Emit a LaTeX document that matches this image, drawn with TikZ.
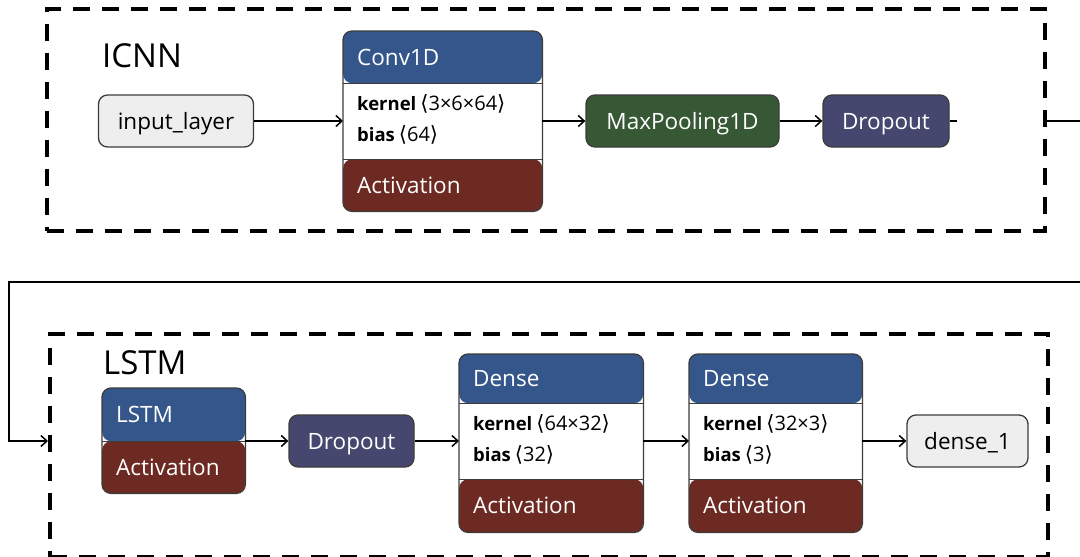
\documentclass[tikz,border=0pt]{standalone}
\usepackage{fontspec}
\setmainfont{Open Sans}
\newfontfamily\symf{DejaVu Sans}
\usetikzlibrary{arrows.meta,calc}
\definecolor{hblue}{HTML}{34568A}
\definecolor{hred}{HTML}{6D2A22}
\definecolor{hgreen}{HTML}{365834}
\definecolor{hpurple}{HTML}{46476F}
\definecolor{lgray}{HTML}{EEEEEE}
\definecolor{edgec}{HTML}{3C3C3C}
\newcommand\labfont{\fontsize{22.5}{26}\selectfont}
\newcommand\parfont{\fontsize{18.5}{31}\selectfont}
\newcommand\shp[1]{\hspace{4pt}{\symf\fontsize{21}{24}\selectfont ⟨}{\fontsize{20}{24}\selectfont #1}{\symf\fontsize{21}{24}\selectfont ⟩}}
% name, x, ytop, width, h1, h2, h3, title, content
\newcommand\complayer[9]{%
  \pgfmathsetmacro\ctot{#5+#6+#7}%
  \node[draw=none, rounded corners=9pt, minimum width=#4pt, minimum height=\ctot pt,
    anchor=north west, inner sep=0pt, fill=white,
    path picture={%
      \fill[hblue] (path picture bounding box.north west) rectangle ++(#4pt,-#5pt);
      \fill[hred] (path picture bounding box.south west) rectangle ++(#4pt,#7pt);
      \draw[edgec,line width=1.3pt] ([yshift=-#5pt]path picture bounding box.north west) -- ++(#4pt,0pt);
      \draw[edgec,line width=1.3pt] ([yshift=#7pt]path picture bounding box.south west) -- ++(#4pt,0pt);
    }] (#1) at (#2,#3) {};
  \draw[edgec,line width=1.3pt,rounded corners=9pt] (#1.north west) rectangle (#1.south east);
  \node[anchor=west, inner sep=0pt, text=white, font=\labfont, text height=16pt, text depth=0pt] (#1-t) at ([xshift=14pt,yshift=-#5pt/2]#1.north west) {#8};
  \node[anchor=west, inner sep=0pt, text=white, font=\labfont, text height=16pt, text depth=0pt] (#1-a) at ([xshift=14pt,yshift=#7pt/2]#1.south west) {Activation};
  \if\relax\detokenize{#9}\relax\else
  \node[anchor=west, inner sep=0pt, align=left, font=\parfont] (#1-p) at ([xshift=14pt,yshift=-#5pt-#6pt/2+2pt]#1.north west) {#9};
  \fi
}
\begin{document}
\begin{tikzpicture}[x=1pt,y=-1pt,
  box/.style={draw=edgec, line width=1.3pt, rounded corners=9pt, minimum height=52pt, inner sep=0pt, font=\labfont, text height=16pt, text depth=0pt},
  lightbox/.style={box, fill=lgray, text=black},
  darkbox/.style={box, text=white},
  grp/.style={draw=black, line width=3.5pt, dash pattern=on 17pt off 12pt, inner sep=0pt, anchor=north west},
  conn/.style={line width=1.5pt, -{Straight Barb[length=6pt,width=11pt,line width=1.5pt]}},
  plain/.style={line width=1.5pt},
  grptitle/.style={font=\fontsize{33}{36}\selectfont, anchor=base west, inner sep=0pt}
]
\clip (0,0) rectangle (1080,557);
\fill[white] (0,0) rectangle (1080,557);

% groups
\node[grp, minimum width=998pt, minimum height=222pt] (icnngrp) at (45,7) {};
\node[grp, minimum width=998pt, minimum height=223pt] (lstmgrp) at (48,332) {};
\node[grptitle] (icnnt) at (102,67) {ICNN};
\node[grptitle] (lstmt) at (103,374) {LSTM};

% top row
\node[lightbox, minimum width=155pt] (inp) at (176,121) {input\_layer};
\complayer{conv}{343}{31}{199}{52}{76}{52}{Conv1D}{\textbf{kernel}\shp{3×6×64}\\\textbf{bias}\shp{64}}
\node[darkbox, fill=hgreen, minimum width=193pt] (pool) at (682.5,121) {MaxPooling1D};
\node[darkbox, fill=hpurple, minimum width=126pt] (drop1) at (886,121) {Dropout};

% bottom row
\complayer{lstm}{102}{388}{143}{53}{0}{52}{LSTM}{}
\node[darkbox, fill=hpurple, minimum width=125pt] (drop2) at (351.5,441) {Dropout};
\complayer{dense}{459}{354}{184}{49}{76}{53}{Dense}{\textbf{kernel}\shp{64×32}\\\textbf{bias}\shp{32}}
\complayer{densetwo}{689}{354}{173}{49}{76}{53}{Dense}{\textbf{kernel}\shp{32×3}\\\textbf{bias}\shp{3}}
\node[lightbox, minimum width=121pt] (out) at (967.5,441) {dense\_1};

% connectors
\draw[conn] (inp) -- (conv.west |- inp);
\draw[conn] (conv.east |- pool) -- (pool);
\draw[conn] (pool) -- (drop1);
\coordinate (stub) at (957,121);
\draw[plain] (drop1.east) -- (stub);
\coordinate (wr0) at (1043,121);
\coordinate (wr1) at (1095,121);
\coordinate (wr2) at (1095,282);
\coordinate (wr3) at (9,282);
\coordinate (wr4) at (9,441);
\draw[conn] (wr0) -- (wr1) -- (wr2) -- (wr3) -- (wr4) -- (wr4 -| lstmgrp.west);
\draw[conn] (lstm.east |- drop2) -- (drop2);
\draw[conn] (drop2) -- (drop2 -| dense.west);
\draw[conn] (dense.east |- drop2) -- (drop2 -| densetwo.west);
\draw[conn] (densetwo.east |- out) -- (out);
\end{tikzpicture}
\end{document}
